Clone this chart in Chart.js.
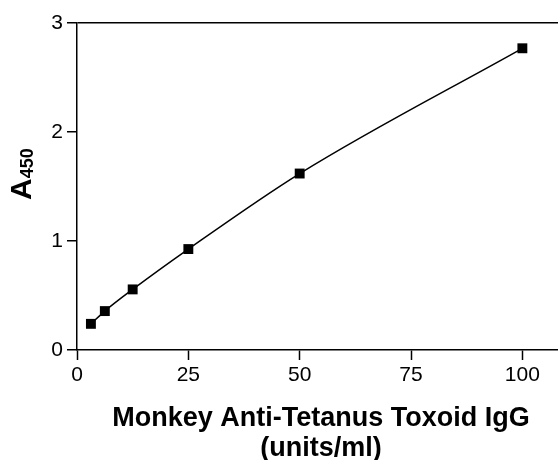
<!DOCTYPE html>
<html>
<head>
<meta charset="utf-8">
<script src="https://cdn.jsdelivr.net/npm/chart.js@4.4.1/dist/chart.umd.min.js"></script>
<style>
  html, body { margin: 0; padding: 0; background: #fff; }
  #wrap { width: 558px; height: 460px; overflow: hidden; }
</style>
</head>
<body>
<div id="wrap"><canvas id="chart" width="558" height="460"></canvas></div>
<script>
// IgG standard curve
const concentrations = [3.125, 6.25, 12.5, 25, 50, 100];
const absorbance = [0.24, 0.357, 0.556, 0.926, 1.619, 2.768];
const xTicks = [0, 25, 50, 75, 100];
const yTicks = [0, 1, 2, 3];
const xTitle = ['Monkey Anti-Tetanus Toxoid IgG', '(units/ml)'];

const FONT = '"Liberation Sans", Arial, sans-serif';

// axis titles: the y one needs a subscript, the x one sits a little right of the
// plot centre because the original plot is cropped on the right
const axisTitles = {
  id: 'axisTitles',
  afterDraw(chart) {
    const ctx = chart.ctx;
    ctx.save();
    ctx.fillStyle = '#000';
    ctx.textBaseline = 'alphabetic';

    ctx.font = `bold 27px ${FONT}`;
    ctx.textAlign = 'center';
    ctx.fillText(xTitle[0], 321, 426);
    ctx.fillText(xTitle[1], 321, 456);

    ctx.translate(31, 200);
    ctx.rotate(-Math.PI / 2);
    ctx.textAlign = 'left';
    ctx.font = `bold 30px ${FONT}`;
    ctx.fillText('A', 0, 0);
    const w = ctx.measureText('A').width;
    ctx.font = `bold 18px ${FONT}`;
    ctx.fillText('450', w, 2);
    ctx.restore();
  }
};

new Chart(document.getElementById('chart'), {
  type: 'scatter',
  data: {
    datasets: [{
      data: concentrations.map((x, i) => ({ x, y: absorbance[i] })),
      showLine: true,
      cubicInterpolationMode: 'monotone',
      borderColor: '#000',
      borderWidth: 1.5,
      pointStyle: 'rect',
      pointRadius: 7,
      pointHoverRadius: 7,
      backgroundColor: '#000',
      pointBorderWidth: 0
    }]
  },
  options: {
    responsive: false,
    animation: false,
    layout: { autoPadding: false, padding: { top: 23, right: 0, left: 0, bottom: 0 } },
    plugins: { legend: { display: false }, tooltip: { enabled: false } },
    scales: {
      x: {
        type: 'linear',
        min: 0,
        max: 108,
        afterFit: s => { s.height = 110; s.paddingRight = 0; s.paddingLeft = 0; },
        afterBuildTicks: s => { s.ticks = xTicks.map(v => ({ value: v })); },
        ticks: { color: '#000', font: { family: FONT, size: 21 }, padding: 3, maxRotation: 0 },
        grid: { drawOnChartArea: false, tickLength: 10, tickColor: '#000', tickWidth: 1.5 },
        border: { color: '#000', width: 1.5 }
      },
      y: {
        min: 0,
        max: 3,
        afterFit: s => { s.width = 77; },
        afterBuildTicks: s => { s.ticks = yTicks.map(v => ({ value: v })); },
        ticks: { color: '#000', font: { family: FONT, size: 21 }, padding: 4 },
        grid: {
          color: c => (c.tick && c.tick.value === 3 ? '#000' : 'rgba(0,0,0,0)'),
          lineWidth: 1.5,
          tickLength: 10,
          tickColor: '#000',
          tickWidth: 1.5
        },
        border: { color: '#000', width: 1.5 }
      }
    }
  },
  plugins: [axisTitles]
});
</script>
</body>
</html>
